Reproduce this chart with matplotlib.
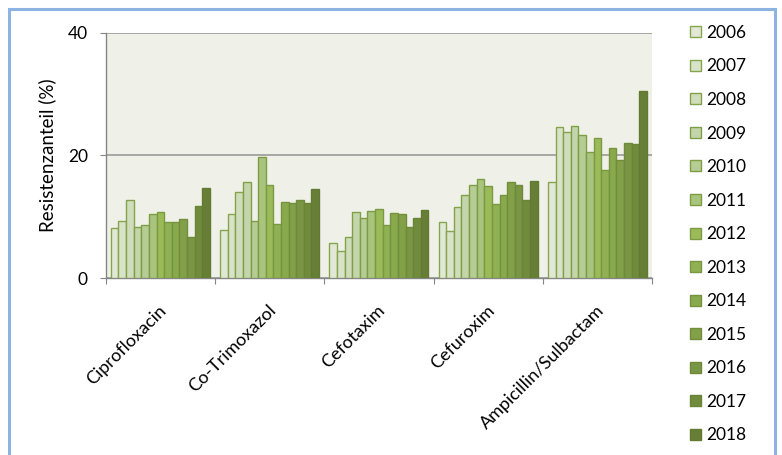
import numpy as np
import matplotlib.pyplot as plt
from matplotlib.patches import Rectangle

plt.rcParams['font.family'] = ['Lato', 'DejaVu Sans']

antibiotics = ['Ciprofloxacin', 'Co-Trimoxazol', 'Cefotaxim', 'Cefuroxim',
               'Ampicillin/Sulbactam']
years = [str(y) for y in range(2006, 2019)]

# resistance share (%) per antibiotic, one value per year 2006..2018
cipro = [8.2, 9.4, 12.8, 8.4, 8.6, 10.4, 10.8, 9.1, 9.1, 9.6, 6.8, 11.8, 14.7]
cotrim = [7.9, 10.4, 14.0, 15.7, 9.4, 19.8, 15.2, 8.9, 12.5, 12.3, 12.8, 12.3, 14.5]
cefotax = [5.8, 4.4, 6.7, 10.8, 9.9, 10.9, 11.3, 8.7, 10.6, 10.4, 8.3, 9.9, 11.1]
cefurox = [9.2, 7.7, 11.6, 13.5, 15.2, 16.1, 15.0, 12.1, 13.5, 15.7, 15.2, 12.8, 15.9]
ampsulb = [15.7, 24.6, 23.8, 24.8, 23.4, 20.5, 22.9, 17.6, 21.3, 19.3, 22.0, 21.8, 30.5]

yticks = [0, 20, 40]

values = np.array([cipro, cotrim, cefotax, cefurox, ampsulb])

fills = ['#e1e9d6', '#d8e3ca', '#cfddbd', '#c4d5ab', '#b5cc94', '#a9c47d',
         '#9bbb59', '#90b153', '#89a94d', '#82a048', '#7a9543', '#718b3d',
         '#667e35']
edges = ['#86a54c', '#86a54c', '#83a24a', '#80a048', '#7e9e46', '#7c9c45',
         '#7a9a43', '#7a9743', '#76933f', '#728e3d', '#6e8a3b', '#6a8438',
         '#627a32']

fig = plt.figure(figsize=(7.82, 4.55), dpi=100)
ax = fig.add_axes([0.1352, 0.3884, 0.6986, 0.5397])
ax.set_facecolor('#eff1e8')

n_cat, n_year = values.shape
group_w = 0.906
bar_w = group_w / n_year
x = np.arange(n_cat)
for j in range(n_year):
    offs = -group_w / 2 + bar_w * (j + 0.5)
    ax.bar(x + offs, values[:, j], width=bar_w, color=fills[j],
           edgecolor=edges[j], linewidth=1.0, label=years[j], zorder=3)

ax.set_xlim(-0.5, n_cat - 0.5)
ax.set_ylim(0, 40)
ax.set_yticks(yticks)
ax.tick_params(axis='y', length=4.3, width=0.8, color='#868686',
               labelsize=12.5, pad=8.6)
ax.yaxis.grid(True, color='#9a9a9a', linewidth=1.2, zorder=1)
ax.set_axisbelow(True)
ax.set_xticks(np.arange(n_cat + 1) - 0.5)
ax.set_xticklabels([])
ax.tick_params(axis='x', length=4.3, width=0.8, color='#868686')
for s in ['top', 'right']:
    ax.spines[s].set_visible(False)
for s in ['left', 'bottom']:
    ax.spines[s].set_color('#868686')
    ax.spines[s].set_linewidth(1.0)
ax.set_ylabel('Resistenzanteil (%)', fontsize=13.5, labelpad=8)

# rotated category names under each group
for i, name in enumerate(antibiotics):
    ax.text(i + 0.035, -0.12, name, transform=ax.get_xaxis_transform(),
            rotation=45, rotation_mode='anchor', ha='right', va='center',
            fontsize=13)

leg = ax.legend(loc='upper left', bbox_to_anchor=(1.057, 1.06), frameon=False,
                fontsize=12.5, handlelength=0.6, handleheight=0.6,
                handletextpad=0.3, labelspacing=1.01, borderaxespad=0)

# outer chart border
fig.patches.append(Rectangle((0.0115, -0.05), 0.98, 1.031,
                             transform=fig.transFigure, fill=False,
                             edgecolor='#8db3e2', linewidth=2.2))

fig.savefig('out.png', dpi=100)
